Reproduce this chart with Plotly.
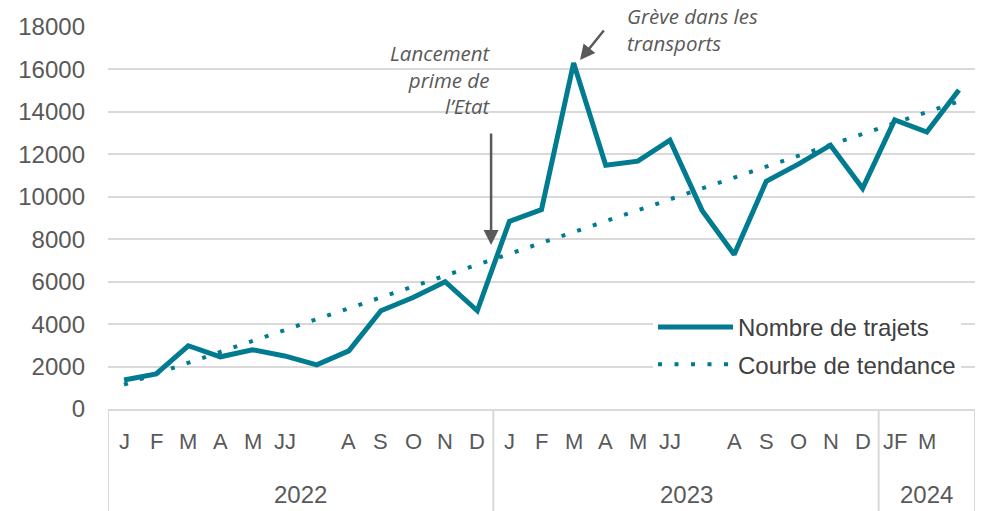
import plotly.graph_objects as go

# ---- data ----
month_index = list(range(27))
trajets = [1370, 1650, 2980, 2460, 2790, 2500, 2080, 2740, 4630, 5250, 6000, 4630,
           8840, 9400, 16300, 11490, 11680, 12670, 9360, 7280, 10730, 11540, 12430, 10400,
           13620, 13050, 15030]
trend_x = [0, 26]
trend_values = [1150, 14500]

month_labels = ["J", "F", "M", "A", "M", "JJ", "", "A", "S", "O", "N", "D",
                "J", "F", "M", "A", "M", "JJ", "", "A", "S", "O", "N", "D",
                "JF", "M", ""]
years = ["2022", "2023", "2024"]
year_centers = [5.5, 17.5, 25.0]
year_bounds = [-0.5, 11.5, 23.5, 26.5]

TEAL = "#007B90"
GREY = "#595959"
GRID = "#D9D9D9"

fig = go.Figure()
fig.add_trace(go.Scatter(x=month_index, y=trajets, mode="lines", name="Nombre de trajets",
                         line=dict(color=TEAL, width=5), legendgroup="a"))
fig.add_trace(go.Scatter(x=trend_x, y=trend_values, mode="lines", name="Courbe de tendance",
                         line=dict(color=TEAL, width=4, dash="4px,12.5px"), legendgroup="b"))

# month / year labels of the category table
for i, lab in enumerate(month_labels):
    if lab:
        fig.add_annotation(x=month_index[i], y=-(441 - 409) / 382, xref="x", yref="paper", text=lab,
                           showarrow=False, yanchor="middle",
                           font=dict(family="Arial", size=22, color=GREY))
for c, yl in zip(year_centers, years):
    fig.add_annotation(x=c, y=-(494 - 409) / 382, xref="x", yref="paper", text=yl,
                       showarrow=False, yanchor="middle",
                       font=dict(family="Arial", size=24, color=GREY))
for b in year_bounds:
    fig.add_shape(type="line", x0=b, x1=b, xref="x", y0=0, y1=-0.27, yref="paper",
                  line=dict(color=GRID, width=2))

# white masks behind annotation texts
fig.add_shape(type="rect", xref="paper", yref="paper", layer="between",
              x0=(351 - 108) / 867, x1=(508 - 108) / 867, y0=(409 - 128) / 382, y1=(409 - 36) / 382,
              line=dict(width=0), fillcolor="white")
fig.add_shape(type="rect", xref="paper", yref="paper", layer="between",
              x0=(606 - 108) / 867, x1=(790 - 108) / 867, y0=(409 - 50) / 382, y1=1.0,
              line=dict(width=0), fillcolor="white")

ann_font = dict(family="Open Sans", size=20.5, color=GREY, style="italic")
fig.add_annotation(x=11.5, y=15530, xref="x", yref="y", text="Lancement<br>prime de<br>l’Etat",
                   showarrow=False, xanchor="right", yanchor="middle", align="right", font=ann_font)
fig.add_annotation(x=15.6, y=17900, xref="x", yref="y", text="Grève dans les<br>transports",
                   showarrow=False, xanchor="left", yanchor="middle", align="left", font=ann_font)
# arrows
fig.add_annotation(x=11.43, y=7728, xref="x", yref="y", text="", showarrow=True,
                   ax=0, ay=-113, arrowhead=2, arrowsize=1.2, arrowwidth=2.5, arrowcolor=GREY)
fig.add_annotation(x=14.2, y=16445, xref="x", yref="y", text="", showarrow=True,
                   ax=25, ay=-31, arrowhead=2, arrowsize=1.2, arrowwidth=2.5, arrowcolor=GREY)

fig.update_layout(
    width=986, height=511,
    margin=dict(l=108, r=11, t=27, b=102, autoexpand=False),
    plot_bgcolor="white", paper_bgcolor="white",
    showlegend=True,
    legend=dict(x=(653 - 108) / 867, y=(409 - 305) / 382, xanchor="left", yanchor="top",
                bgcolor="white", font=dict(family="Arial", size=24, color="#404040"),
                itemwidth=75, tracegroupgap=3, traceorder="grouped"),
    xaxis=dict(range=[-0.5, 26.5], showticklabels=False, showgrid=False, zeroline=False,
               showline=True, linecolor=GRID, linewidth=2, ticks="", automargin=False),
    yaxis=dict(range=[0, 18000], dtick=2000, tickformat="d", showgrid=True, gridcolor=GRID,
               gridwidth=1.5, zeroline=False, showline=False, ticks="", ticklabelstandoff=22,
               automargin=False, tickfont=dict(family="Arial", size=24, color=GREY)),
)

fig.write_html("out.html", config={"displayModeBar": False},
               post_script="document.body.style.margin='0';")
